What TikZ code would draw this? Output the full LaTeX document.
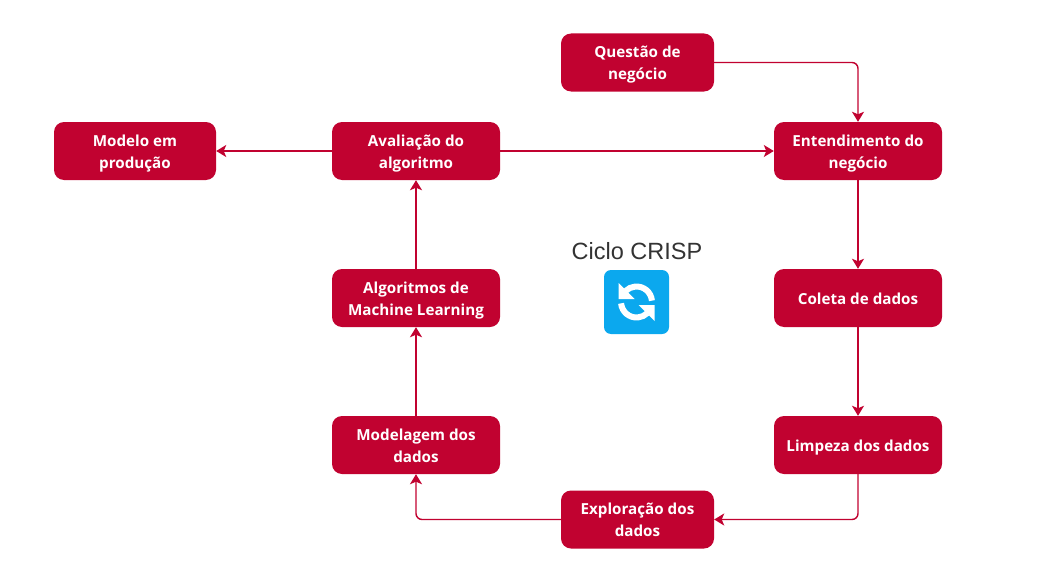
\documentclass[tikz,border=0pt]{standalone}
\usepackage{fontspec}
\setmainfont{Open Sans}
\newfontfamily\titlefont{Liberation Sans}
\usetikzlibrary{arrows.meta,calc}
\definecolor{crimson}{HTML}{C10230}
\definecolor{iconblue}{HTML}{0BA8EE}
\newcommand{\steptext}[1]{\raisebox{-6pt}[0pt][0pt]{#1}}
\tikzset{
  x=1pt,y=-1pt,
  stepbox/.style={fill=crimson,draw=none,rounded corners=10pt,minimum height=58pt,align=center,
    text=white,font=\fontsize{15.2}{22}\selectfont\bfseries,inner sep=0pt,anchor=center},
  wide/.style={minimum width=168pt},
  mid/.style={minimum width=153pt},
  link/.style={draw=crimson,line width=1.4pt,rounded corners=6pt,-{Stealth[length=10pt,width=12pt,inset=2.5pt]}},
  iconmark/.style={draw=white,line width=6pt}
}
\begin{document}
\begin{tikzpicture}
\useasboundingbox (0,0) rectangle (1041,578);
\node[stepbox,mid] (q) at (637.5,62.5) {\steptext{Questão de}\\\steptext{negócio}};
\node[stepbox,wide] (e) at (858,151) {\steptext{Entendimento do}\\\steptext{negócio}};
\node[stepbox,minimum width=162pt] (m) at (135,151) {\steptext{Modelo em}\\\steptext{produção}};
\node[stepbox,wide] (av) at (416,151) {\steptext{Avaliação do}\\\steptext{algoritmo}};
\node[stepbox,wide] (al) at (416,298) {\steptext{Algoritmos de}\\\steptext{Machine Learning}};
\node[stepbox,wide] (c) at (858,298) {\steptext{Coleta de dados}};
\node[stepbox,wide] (l) at (858,445) {\steptext{Limpeza dos dados}};
\node[stepbox,wide] (md) at (416,445) {\steptext{Modelagem dos}\\\steptext{dados}};
\node[stepbox,mid] (x) at (637.5,519.5) {\steptext{Exploração dos}\\\steptext{dados}};
\draw[link] (q.east) -| (e.north);
\draw[link] (e.south) -- (c.north);
\draw[link] (c.south) -- (l.north);
\draw[link] (l.south) |- (x.east);
\draw[link] (x.west) -| (md.south);
\draw[link] (md.north) -- (al.south);
\draw[link] (al.north) -- (av.south);
\draw[link] (av.east) -- (e.west);
\draw[link] (av.west) -- (m.east);
\node[font=\fontsize{23.5}{26}\titlefont,text=black!80,inner sep=0pt] (t) at (637,251) {Ciclo CRISP};
\node[fill=iconblue,rounded corners=7pt,minimum width=65pt,minimum height=64pt,inner sep=0pt] (i) at (636.5,302) {};
\draw[iconmark] ($(i)+(15.4,-1.35)$) arc[start angle=-5,end angle=-135,radius=15.5];
\fill[white] ($(i)+(-18,-19)$) -- ($(i)+(-18,-3)$) -- ($(i)+(-2,-3)$) -- cycle;
\draw[iconmark] ($(i)+(-15.4,1.35)$) arc[start angle=175,end angle=45,radius=15.5];
\fill[white] ($(i)+(18,19)$) -- ($(i)+(18,3)$) -- ($(i)+(2,3)$) -- cycle;
\end{tikzpicture}
\end{document}
